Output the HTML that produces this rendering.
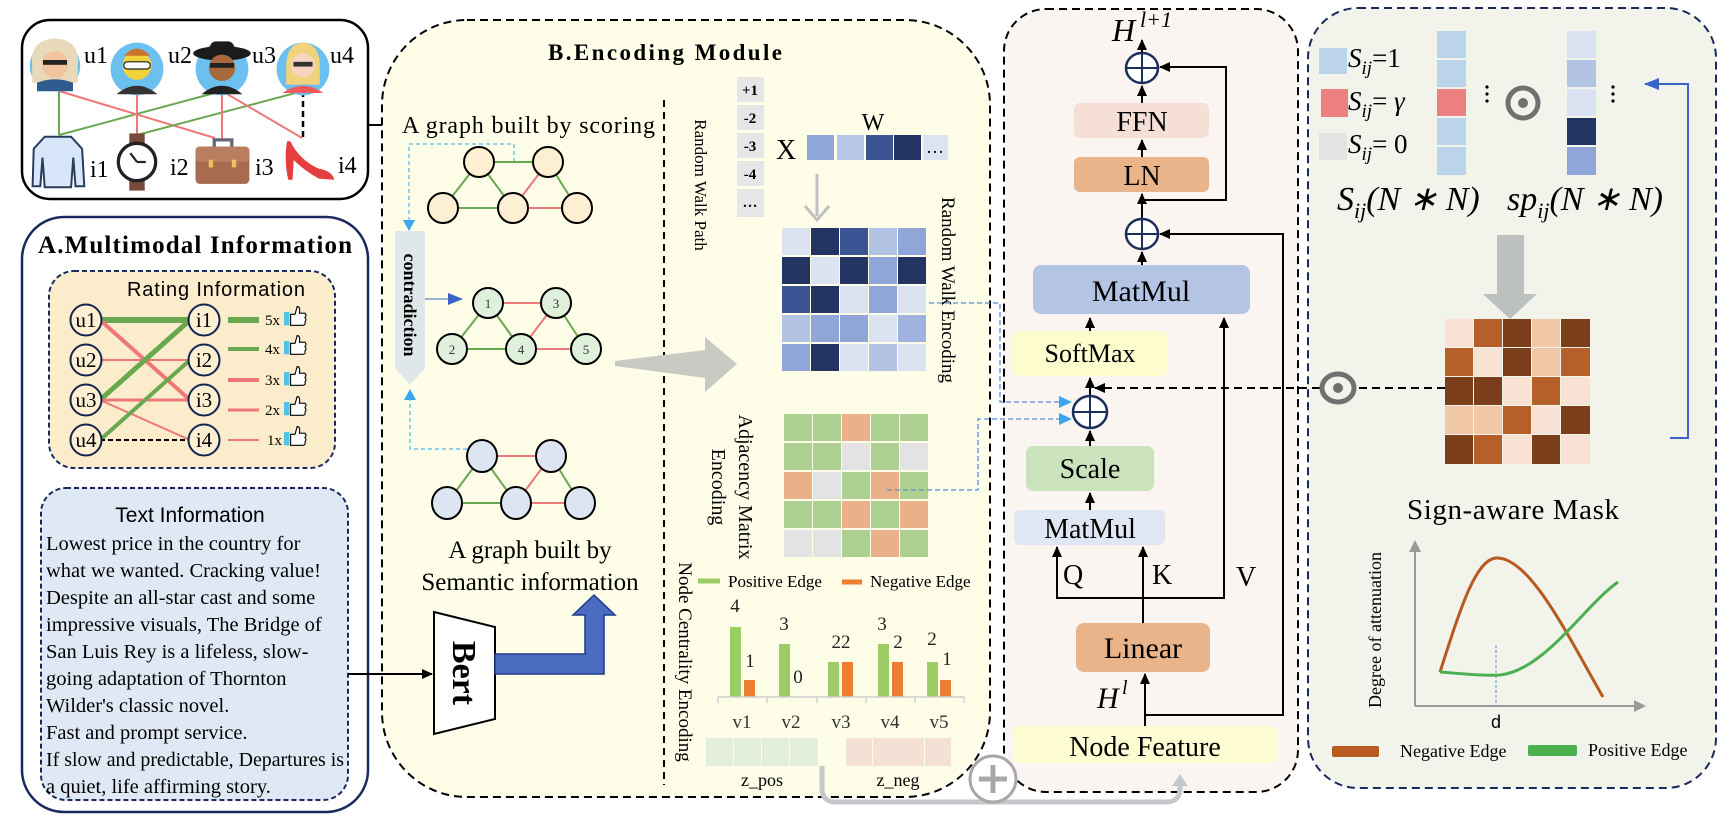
<!DOCTYPE html>
<html><head><meta charset="utf-8"><style>
html,body{margin:0;padding:0;background:#fff;}
svg{display:block;}
text{font-family:"Liberation Serif",serif;}
.sans{font-family:"Liberation Sans",sans-serif;}
</style></head><body>
<svg width="1735" height="817" viewBox="0 0 1735 817" xmlns="http://www.w3.org/2000/svg">
<defs>
<marker id="ab" markerWidth="12" markerHeight="12" refX="10" refY="6" orient="auto" markerUnits="userSpaceOnUse"><path d="M0,1 L11,6 L0,11z" fill="#000"/></marker>
<marker id="ac" markerWidth="14" markerHeight="14" refX="12" refY="7" orient="auto" markerUnits="userSpaceOnUse"><path d="M0,1 L13,7 L0,13z" fill="#3aa6ee"/></marker>
<marker id="abl" markerWidth="16" markerHeight="14" refX="14" refY="7" orient="auto" markerUnits="userSpaceOnUse"><path d="M0,1 L15,7 L0,13z" fill="#3a64c8"/></marker>
<marker id="ag" markerWidth="18" markerHeight="18" refX="8" refY="9" orient="auto" markerUnits="userSpaceOnUse"><path d="M0,1 L12,9 L0,17z" fill="#c4c7cc"/></marker>
</defs>

<!-- ================= Users box ================= -->
<rect x="22" y="20" width="346" height="179" rx="28" fill="#fff" stroke="#000" stroke-width="2.5"/>
<g stroke-width="2" fill="none">
<line x1="59" y1="91" x2="59" y2="135" stroke="#6aa84f"/>
<line x1="59" y1="135" x2="222" y2="91" stroke="#6aa84f"/>
<line x1="59" y1="91" x2="215" y2="138" stroke="#ee7777"/>
<line x1="137" y1="91" x2="137" y2="135" stroke="#ee7777"/>
<line x1="137" y1="135" x2="303" y2="91" stroke="#6aa84f"/>
<line x1="222" y1="91" x2="222" y2="140" stroke="#ee7777"/>
<line x1="222" y1="91" x2="302" y2="138" stroke="#ee7777"/>
<line x1="303" y1="91" x2="303" y2="138" stroke="#000" stroke-width="2.5" stroke-dasharray="6,4"/>
</g>
<!-- avatars -->
<g transform="translate(55,66) scale(1.2) translate(-55,-66)">
<circle cx="55" cy="66" r="21" fill="#6cc0f0"/>
<path d="M36,66 Q34,44 55,43 Q76,44 74,66 L74,80 L36,80z" fill="#e8d9b8"/>
<circle cx="55" cy="65" r="11" fill="#f3c39e"/>
<rect x="45" y="61" width="20" height="4" fill="#222"/>
<path d="M40,87 L40,80 Q55,74 70,80 L70,87z" fill="#2f5b8f"/>
</g>
<g transform="translate(137,69) scale(1.2) translate(-137,-69)">
<circle cx="137" cy="69" r="22" fill="#6cc0f0"/>
<circle cx="137" cy="66" r="12" fill="#f2d23b"/>
<path d="M126,58 Q137,46 148,58z" fill="#c8742a"/>
<rect x="126" y="63" width="22" height="6" rx="3" fill="#fff" stroke="#222"/>
<path d="M120,90 Q137,76 154,90z" fill="#333"/>
</g>
<g transform="translate(222,69) scale(1.2) translate(-222,-69)">
<circle cx="222" cy="69" r="22" fill="#6cc0f0"/>
<ellipse cx="222" cy="56" rx="24" ry="6" fill="#1c1c1c"/>
<rect x="212" y="46" width="20" height="10" rx="5" fill="#1c1c1c"/>
<circle cx="222" cy="68" r="11" fill="#a86a3d"/>
<rect x="212" y="64" width="20" height="4" fill="#222"/>
<path d="M205,90 Q222,76 239,90z" fill="#222"/>
</g>
<g transform="translate(303,69) scale(1.2) translate(-303,-69)">
<circle cx="303" cy="69" r="22" fill="#6cc0f0"/>
<path d="M289,70 Q288,48 303,47 Q318,48 317,70 L317,82 L289,82z" fill="#f0d37a"/>
<circle cx="303" cy="66" r="10" fill="#f8d5c0"/>
<rect x="295" y="63" width="16" height="4" fill="#333"/>
<path d="M286,89 Q303,77 320,89z" fill="#ee5b5b"/>
</g>
<text x="84" y="63" font-size="24">u1</text>
<text x="168" y="63" font-size="24">u2</text>
<text x="252" y="63" font-size="24">u3</text>
<text x="330" y="63" font-size="24">u4</text>
<!-- items -->
<g transform="translate(59,162) scale(1.1) translate(-59,-162)">
<path d="M46,139 L70,139 L80,150 L82,184 L74,184 L72,158 L70,185 L46,185 L44,158 L42,184 L35,184 L36,150z" fill="#d7e6f9" stroke="#2a3b5c" stroke-width="1.8"/>
</g>
<g transform="translate(137,162) scale(1.1) translate(-137,-162)">
<rect x="130" y="136" width="14" height="52" fill="#7a4a3a"/>
<circle cx="137" cy="162" r="17" fill="#fff" stroke="#222" stroke-width="3"/>
<line x1="137" y1="162" x2="131" y2="154" stroke="#222" stroke-width="2"/>
<line x1="137" y1="162" x2="145" y2="162" stroke="#222" stroke-width="2"/>
</g>
<g transform="translate(223,163) scale(1.1) translate(-223,-163)">
<path d="M215,148 L215,142 L231,142 L231,148" fill="none" stroke="#667" stroke-width="3"/>
<rect x="198" y="148" width="49" height="34" rx="4" fill="#a76b4f"/>
<rect x="198" y="148" width="49" height="14" rx="4" fill="#b97e60"/>
<rect x="210" y="160" width="4" height="7" fill="#f0c060"/><rect x="231" y="160" width="4" height="7" fill="#f0c060"/>
</g>
<g transform="translate(308,160) scale(1.1) translate(-308,-160)">
<path d="M289,143 Q286,160 290,178 L294,178 L295,160 Q305,170 318,177 L332,178 Q330,170 318,168 Q300,160 292,143z" fill="#e53e3e"/>
</g>
<text x="90" y="177" font-size="24">i1</text>
<text x="170" y="175" font-size="24">i2</text>
<text x="255" y="175" font-size="24">i3</text>
<text x="338" y="173" font-size="24">i4</text>
<line x1="368" y1="125" x2="394" y2="125" stroke="#000" stroke-width="2" marker-end="url(#ab)"/>

<!-- ================= A box ================= -->
<rect x="22" y="217" width="346" height="595" rx="42" fill="#fff" stroke="#1b2a5e" stroke-width="2.5"/>
<text x="38" y="253" font-size="25" font-weight="bold" textLength="314">A.Multimodal Information</text>
<rect x="49" y="271" width="286" height="197" rx="25" fill="#fbeccb" stroke="#1b2a5e" stroke-width="2" stroke-dasharray="5,3"/>
<text x="127" y="296" font-size="20" class="sans" textLength="178">Rating Information</text>
<g fill="none">
<line x1="100" y1="320" x2="190" y2="320" stroke="#6aa84f" stroke-width="6"/>
<line x1="100" y1="320" x2="190" y2="400" stroke="#ee7777" stroke-width="4"/>
<line x1="100" y1="360" x2="190" y2="360" stroke="#ee7777" stroke-width="2"/>
<line x1="100" y1="400" x2="190" y2="320" stroke="#6aa84f" stroke-width="5"/>
<line x1="100" y1="400" x2="190" y2="400" stroke="#ee7777" stroke-width="3"/>
<line x1="100" y1="400" x2="190" y2="440" stroke="#ee7777" stroke-width="2"/>
<line x1="100" y1="440" x2="190" y2="360" stroke="#6aa84f" stroke-width="4"/>
<line x1="100" y1="440" x2="190" y2="440" stroke="#000" stroke-width="2" stroke-dasharray="5,3"/>
</g>
<g fill="#fcefd2" stroke="#14224d" stroke-width="2">
<circle cx="86" cy="320" r="15.5"/><circle cx="86" cy="360" r="15.5"/><circle cx="86" cy="400" r="15.5"/><circle cx="86" cy="440" r="15.5"/>
<circle cx="204" cy="320" r="15.5"/><circle cx="204" cy="360" r="15.5"/><circle cx="204" cy="400" r="15.5"/><circle cx="204" cy="440" r="15.5"/>
</g>
<g font-size="21" text-anchor="middle">
<text x="86" y="327">u1</text><text x="86" y="367">u2</text><text x="86" y="407">u3</text><text x="86" y="447">u4</text>
<text x="204" y="327">i1</text><text x="204" y="367">i2</text><text x="204" y="407">i3</text><text x="204" y="447">i4</text>
</g>
<line x1="228" y1="320" x2="259" y2="320" stroke="#6aa84f" stroke-width="6"/>
<line x1="228" y1="349" x2="259" y2="349" stroke="#6aa84f" stroke-width="4"/>
<line x1="228" y1="380" x2="259" y2="380" stroke="#ee7777" stroke-width="4"/>
<line x1="228" y1="410" x2="259" y2="410" stroke="#ee7777" stroke-width="3"/>
<line x1="228" y1="440" x2="259" y2="440" stroke="#ee7777" stroke-width="2"/>
<g font-size="15">
<text x="265" y="325">5x</text><text x="265" y="354">4x</text><text x="265" y="385">3x</text><text x="265" y="415">2x</text><text x="267" y="445">1x</text>
</g>
<g>
<g transform="translate(284,311) scale(1.1)"><rect x="0" y="1" width="5" height="12" fill="#4fc3e8"/><path d="M6,13 L6,3 L10,3 L12,-4 Q15,-4 14,2 L19,2 Q21,4 19,6 Q21,8 19,10 Q20,13 17,13z" fill="#fff" stroke="#000" stroke-width="1"/></g>
<g transform="translate(284,340) scale(1.1)"><rect x="0" y="1" width="5" height="12" fill="#4fc3e8"/><path d="M6,13 L6,3 L10,3 L12,-4 Q15,-4 14,2 L19,2 Q21,4 19,6 Q21,8 19,10 Q20,13 17,13z" fill="#fff" stroke="#000" stroke-width="1"/></g>
<g transform="translate(284,371) scale(1.1)"><rect x="0" y="1" width="5" height="12" fill="#4fc3e8"/><path d="M6,13 L6,3 L10,3 L12,-4 Q15,-4 14,2 L19,2 Q21,4 19,6 Q21,8 19,10 Q20,13 17,13z" fill="#fff" stroke="#000" stroke-width="1"/></g>
<g transform="translate(284,401) scale(1.1)"><rect x="0" y="1" width="5" height="12" fill="#4fc3e8"/><path d="M6,13 L6,3 L10,3 L12,-4 Q15,-4 14,2 L19,2 Q21,4 19,6 Q21,8 19,10 Q20,13 17,13z" fill="#fff" stroke="#000" stroke-width="1"/></g>
<g transform="translate(284,431) scale(1.1)"><rect x="0" y="1" width="5" height="12" fill="#4fc3e8"/><path d="M6,13 L6,3 L10,3 L12,-4 Q15,-4 14,2 L19,2 Q21,4 19,6 Q21,8 19,10 Q20,13 17,13z" fill="#fff" stroke="#000" stroke-width="1"/></g>
</g>
<!-- text info -->
<rect x="41" y="488" width="307" height="312" rx="25" fill="#dfe9f5" stroke="#1b2a5e" stroke-width="2" stroke-dasharray="5,3"/>
<text x="190" y="522" font-size="21" class="sans" text-anchor="middle">Text Information</text>
<g font-size="20.5">
<text x="46" y="550">Lowest price in the country for</text>
<text x="46" y="577">what we wanted. Cracking value!</text>
<text x="46" y="604">Despite an all-star cast and some</text>
<text x="46" y="631">impressive visuals, The Bridge of</text>
<text x="46" y="658">San Luis Rey is a lifeless, slow-</text>
<text x="46" y="685">going adaptation of Thornton</text>
<text x="46" y="712">Wilder's classic novel.</text>
<text x="46" y="739">Fast and prompt service.</text>
<text x="46" y="766" textLength="298" lengthAdjust="spacingAndGlyphs">If slow and predictable, Departures is</text>
<text x="46" y="793">a quiet, life affirming story.</text>
</g>

<!-- ================= B box ================= -->
<rect x="382" y="20" width="608" height="777" rx="85" fill="#fdfde8" stroke="#000" stroke-width="2" stroke-dasharray="8,5"/>
<line x1="664" y1="100" x2="664" y2="785" stroke="#000" stroke-width="2" stroke-dasharray="7,5"/>
<text x="548" y="60" font-size="23" font-weight="bold" textLength="234">B.Encoding Module</text>
<text x="402" y="133" font-size="24" textLength="253">A graph built by scoring</text>
<!-- scoring graph -->
<polyline points="409,228 409,144 514,144 514,162" fill="none" stroke="#6cc6f0" stroke-width="1.5" stroke-dasharray="4,3"/>
<path d="M403,220 L409,231 L415,220z" fill="#3aa6ee"/>
<g stroke-width="2">
<line x1="479" y1="162" x2="548" y2="162" stroke="#6aa84f"/>
<line x1="479" y1="162" x2="443" y2="208" stroke="#6aa84f"/>
<line x1="479" y1="162" x2="513" y2="208" stroke="#6aa84f"/>
<line x1="548" y1="162" x2="513" y2="208" stroke="#ee7777"/>
<line x1="548" y1="162" x2="577" y2="208" stroke="#6aa84f"/>
<line x1="443" y1="208" x2="513" y2="208" stroke="#6aa84f"/>
<line x1="513" y1="208" x2="577" y2="208" stroke="#ee7777"/>
</g>
<g fill="#fcefd2" stroke="#000" stroke-width="2">
<circle cx="479" cy="162" r="15"/><circle cx="548" cy="162" r="15"/><circle cx="443" cy="208" r="15"/><circle cx="513" cy="208" r="15"/><circle cx="577" cy="208" r="15"/>
</g>
<!-- contradiction -->
<path d="M395,231 L425,231 L425,368 L410,385 L395,368z" fill="#dfe7e8"/>
<text x="0" y="0" font-size="18" font-weight="bold" text-anchor="middle" transform="translate(404,305) rotate(90)">contradiction</text>
<line x1="425" y1="299" x2="462" y2="299" stroke="#7a9cc8" stroke-width="1.5" marker-end="url(#abl)"/>
<g stroke-width="2">
<line x1="488" y1="303" x2="556" y2="303" stroke="#ee7777"/>
<line x1="488" y1="303" x2="452" y2="349" stroke="#6aa84f"/>
<line x1="488" y1="303" x2="521" y2="349" stroke="#6aa84f"/>
<line x1="556" y1="303" x2="521" y2="349" stroke="#ee7777"/>
<line x1="556" y1="303" x2="586" y2="349" stroke="#6aa84f"/>
<line x1="452" y1="349" x2="521" y2="349" stroke="#6aa84f"/>
<line x1="521" y1="349" x2="586" y2="349" stroke="#ee7777"/>
</g>
<g fill="#dff0dc" stroke="#000" stroke-width="2">
<circle cx="488" cy="303" r="15"/><circle cx="556" cy="303" r="15"/><circle cx="452" cy="349" r="15"/><circle cx="521" cy="349" r="15"/><circle cx="586" cy="349" r="15"/>
</g>
<g font-size="13" class="sans" text-anchor="middle" fill="#333">
<text x="488" y="308">1</text><text x="556" y="308">3</text><text x="452" y="354">2</text><text x="521" y="354">4</text><text x="586" y="354">5</text>
</g>
<!-- semantic graph -->
<polyline points="467,449 410,449 410,395" fill="none" stroke="#6cc6f0" stroke-width="1.5" stroke-dasharray="4,3"/>
<path d="M404,400 L410,389 L416,400z" fill="#3aa6ee"/>
<g stroke-width="2">
<line x1="482" y1="456" x2="551" y2="456" stroke="#ee7777"/>
<line x1="482" y1="456" x2="447" y2="503" stroke="#6aa84f"/>
<line x1="482" y1="456" x2="516" y2="503" stroke="#6aa84f"/>
<line x1="551" y1="456" x2="516" y2="503" stroke="#ee7777"/>
<line x1="551" y1="456" x2="580" y2="503" stroke="#6aa84f"/>
<line x1="447" y1="503" x2="516" y2="503" stroke="#6aa84f"/>
<line x1="516" y1="503" x2="580" y2="503" stroke="#ee7777"/>
</g>
<g fill="#dde4f2" stroke="#000" stroke-width="2">
<ellipse cx="482" cy="456" rx="15" ry="16"/><ellipse cx="551" cy="456" rx="15" ry="16"/><ellipse cx="447" cy="503" rx="15" ry="16"/><ellipse cx="516" cy="503" rx="15" ry="16"/><ellipse cx="580" cy="503" rx="15" ry="16"/>
</g>
<text x="530" y="558" font-size="25" text-anchor="middle">A graph built by</text>
<text x="530" y="590" font-size="25" text-anchor="middle">Semantic information</text>
<!-- Bert -->
<line x1="348" y1="674" x2="432" y2="674" stroke="#000" stroke-width="2" marker-end="url(#ab)"/>
<path d="M434,612 L495,627 L495,719 L434,734z" fill="#fff" stroke="#000" stroke-width="2"/>
<text x="0" y="0" font-size="34" font-weight="bold" text-anchor="middle" transform="translate(453,673) rotate(90)">Bert</text>
<path d="M495,654 L585,654 L585,615 L573,615 L594,595 L615,615 L604,615 L604,674 L495,674z" fill="#4a6bbf" stroke="#1e3a8a" stroke-width="1.5"/>
<!-- big gray arrow -->
<path d="M615,361 L705,350 L705,337 L737,364 L705,392 L705,378 L615,366z" fill="#c8cbc4"/>

<!-- random walk -->
<text x="0" y="0" font-size="17" text-anchor="middle" transform="translate(695,185) rotate(90)">Random Walk Path</text>
<g fill="#e6e6e6">
<rect x="737" y="77" width="27" height="25"/><rect x="737" y="105" width="27" height="25"/><rect x="737" y="133" width="27" height="25"/><rect x="737" y="161" width="27" height="25"/><rect x="737" y="189" width="27" height="28"/>
</g>
<g font-size="15" font-weight="bold" text-anchor="middle">
<text x="750" y="95">+1</text><text x="750" y="123">-2</text><text x="750" y="151">-3</text><text x="750" y="179">-4</text><text x="750" y="207">…</text>
</g>
<text x="776" y="159" font-size="28">X</text>
<text x="873" y="130" font-size="24" text-anchor="middle">W</text>
<rect x="807" y="135" width="27" height="25" fill="#8fa6d8"/>
<rect x="837" y="135" width="27" height="25" fill="#b8c6e6"/>
<rect x="866" y="135" width="27" height="25" fill="#3a5494"/>
<rect x="894" y="135" width="27" height="25" fill="#233463"/>
<rect x="923" y="135" width="25" height="25" fill="#dce4f3"/>
<text x="935" y="153" font-size="18" text-anchor="middle">…</text>
<line x1="817" y1="174" x2="817" y2="216" stroke="#c0c0c0" stroke-width="3"/>
<path d="M805,206 L817,220 L829,206" fill="none" stroke="#c0c0c0" stroke-width="3"/>
<g>
<rect x="782" y="228" width="28" height="27" fill="#dbe3f2"/><rect x="811" y="228" width="28" height="27" fill="#233463"/><rect x="840" y="228" width="28" height="27" fill="#3a5494"/><rect x="869" y="228" width="28" height="27" fill="#b3c3e4"/><rect x="898" y="228" width="28" height="27" fill="#91a6d8"/>
<rect x="782" y="257" width="28" height="27" fill="#233463"/><rect x="811" y="257" width="28" height="27" fill="#dbe3f2"/><rect x="840" y="257" width="28" height="27" fill="#233463"/><rect x="869" y="257" width="28" height="27" fill="#91a6d8"/><rect x="898" y="257" width="28" height="27" fill="#233463"/>
<rect x="782" y="286" width="28" height="27" fill="#3a5494"/><rect x="811" y="286" width="28" height="27" fill="#233463"/><rect x="840" y="286" width="28" height="27" fill="#dbe3f2"/><rect x="869" y="286" width="28" height="27" fill="#91a6d8"/><rect x="898" y="286" width="28" height="27" fill="#dbe3f2"/>
<rect x="782" y="315" width="28" height="27" fill="#b3c3e4"/><rect x="811" y="315" width="28" height="27" fill="#91a6d8"/><rect x="840" y="315" width="28" height="27" fill="#91a6d8"/><rect x="869" y="315" width="28" height="27" fill="#dbe3f2"/><rect x="898" y="315" width="28" height="27" fill="#9fb3de"/>
<rect x="782" y="344" width="28" height="27" fill="#91a6d8"/><rect x="811" y="344" width="28" height="27" fill="#233463"/><rect x="840" y="344" width="28" height="27" fill="#dbe3f2"/><rect x="869" y="344" width="28" height="27" fill="#b3c3e4"/><rect x="898" y="344" width="28" height="27" fill="#dbe3f2"/>
</g>
<text x="0" y="0" font-size="19" text-anchor="middle" transform="translate(942,290) rotate(90)">Random Walk Encoding</text>
<!-- adjacency -->
<g>
<rect x="784" y="414" width="28" height="27" fill="#aecf92"/><rect x="813" y="414" width="28" height="27" fill="#aecf92"/><rect x="842" y="414" width="28" height="27" fill="#e9b08a"/><rect x="871" y="414" width="28" height="27" fill="#aecf92"/><rect x="900" y="414" width="28" height="27" fill="#aecf92"/>
<rect x="784" y="443" width="28" height="27" fill="#aecf92"/><rect x="813" y="443" width="28" height="27" fill="#aecf92"/><rect x="842" y="443" width="28" height="27" fill="#e3e3e3"/><rect x="871" y="443" width="28" height="27" fill="#aecf92"/><rect x="900" y="443" width="28" height="27" fill="#e3e3e3"/>
<rect x="784" y="472" width="28" height="27" fill="#e9b08a"/><rect x="813" y="472" width="28" height="27" fill="#e3e3e3"/><rect x="842" y="472" width="28" height="27" fill="#aecf92"/><rect x="871" y="472" width="28" height="27" fill="#e9b08a"/><rect x="900" y="472" width="28" height="27" fill="#aecf92"/>
<rect x="784" y="501" width="28" height="27" fill="#aecf92"/><rect x="813" y="501" width="28" height="27" fill="#aecf92"/><rect x="842" y="501" width="28" height="27" fill="#e9b08a"/><rect x="871" y="501" width="28" height="27" fill="#aecf92"/><rect x="900" y="501" width="28" height="27" fill="#e9b08a"/>
<rect x="784" y="530" width="28" height="27" fill="#e3e3e3"/><rect x="813" y="530" width="28" height="27" fill="#e3e3e3"/><rect x="842" y="530" width="28" height="27" fill="#aecf92"/><rect x="871" y="530" width="28" height="27" fill="#e9b08a"/><rect x="900" y="530" width="28" height="27" fill="#aecf92"/>
</g>
<text x="0" y="0" font-size="20" text-anchor="middle" transform="translate(739,487) rotate(90)">Adjacency Matrix</text>
<text x="0" y="0" font-size="20" text-anchor="middle" transform="translate(712,487) rotate(90)">Encoding</text>
<!-- centrality -->
<text x="0" y="0" font-size="19" text-anchor="middle" transform="translate(679,662) rotate(90)">Node Centrality Encoding</text>
<line x1="698" y1="581" x2="720" y2="581" stroke="#9ccc65" stroke-width="5"/>
<text x="728" y="587" font-size="17">Positive Edge</text>
<line x1="842" y1="582" x2="862" y2="582" stroke="#ed7d31" stroke-width="5"/>
<text x="870" y="587" font-size="17">Negative Edge</text>
<g fill="#9ccc65">
<rect x="730" y="627" width="11" height="70"/><rect x="779" y="644" width="11" height="53"/><rect x="828" y="662" width="11" height="35"/><rect x="878" y="644" width="11" height="53"/><rect x="927" y="662" width="11" height="35"/>
</g>
<g fill="#ed7d31">
<rect x="744" y="680" width="11" height="17"/><rect x="842" y="662" width="11" height="35"/><rect x="892" y="662" width="11" height="35"/><rect x="940" y="680" width="11" height="17"/>
</g>
<line x1="718" y1="697" x2="964" y2="697" stroke="#d0d0d0" stroke-width="1.5"/>
<g stroke="#d0d0d0" stroke-width="1.5"><line x1="718" y1="697" x2="718" y2="703"/><line x1="767" y1="697" x2="767" y2="703"/><line x1="817" y1="697" x2="817" y2="703"/><line x1="866" y1="697" x2="866" y2="703"/><line x1="915" y1="697" x2="915" y2="703"/><line x1="964" y1="697" x2="964" y2="703"/></g>
<g class="sans" font-size="19" text-anchor="middle" fill="#222">
<text x="735" y="612">4</text><text x="750" y="667">1</text>
<text x="784" y="630">3</text><text x="798" y="683">0</text>
<text x="841" y="648">22</text>
<text x="882" y="630">3</text><text x="898" y="648">2</text>
<text x="932" y="645">2</text><text x="947" y="665">1</text>
</g>
<g class="sans" font-size="19" text-anchor="middle" fill="#333">
<text x="742" y="728">v1</text><text x="791" y="728">v2</text><text x="841" y="728">v3</text><text x="890" y="728">v4</text><text x="939" y="728">v5</text>
</g>
<g fill="#e3eedc"><rect x="706" y="738" width="27" height="28"/><rect x="734" y="738" width="27" height="28"/><rect x="762" y="738" width="27" height="28"/><rect x="790" y="738" width="28" height="28"/></g>
<g fill="#f5e0d6"><rect x="846" y="738" width="26" height="28"/><rect x="873" y="738" width="26" height="28"/><rect x="899" y="738" width="25" height="28"/><rect x="925" y="738" width="26" height="28"/></g>
<text x="762" y="786" font-size="18" text-anchor="middle">z_pos</text>
<text x="898" y="786" font-size="18" text-anchor="middle">z_neg</text>

<!-- ================= Transformer box ================= -->
<rect x="1004" y="9" width="294" height="783" rx="42" fill="#faf5f1" stroke="#000" stroke-width="2" stroke-dasharray="8,5"/>
<path d="M822,766 L822,788 Q822,802 836,802 L1166,802 Q1180,802 1180,788 L1180,778" fill="none" stroke="#c4c7cc" stroke-width="5" marker-end="url(#ag)"/>
<circle cx="993" cy="779" r="23" fill="#fff" stroke="#a8a8a8" stroke-width="3"/>
<line x1="979" y1="779" x2="1007" y2="779" stroke="#a8a8a8" stroke-width="5"/><line x1="993" y1="765" x2="993" y2="793" stroke="#a8a8a8" stroke-width="5"/>

<polyline points="929,303 1000,303 1000,402 1071,402" fill="none" stroke="#5b8fd8" stroke-width="1.3" stroke-dasharray="5,3" marker-end="url(#ac)"/>
<polyline points="887,490 978,490 978,419 1071,419" fill="none" stroke="#5b8fd8" stroke-width="1.3" stroke-dasharray="5,3" marker-end="url(#ac)"/>

<text x="1112" y="41" font-size="32" font-style="italic">H</text>
<text x="1140" y="27" font-size="22" font-style="italic">l+1</text>
<g stroke="#000" stroke-width="2" fill="none">
<line x1="1142" y1="52" x2="1142" y2="40" marker-end="url(#ab)"/>
<line x1="1142" y1="103" x2="1142" y2="86" marker-end="url(#ab)"/>
<line x1="1142" y1="157" x2="1142" y2="140" marker-end="url(#ab)"/>
<line x1="1142" y1="218" x2="1142" y2="194" marker-end="url(#ab)"/>
<line x1="1142" y1="265" x2="1142" y2="252" marker-end="url(#ab)"/>
<polyline points="1142,200 1226,200 1226,67 1160,67" marker-end="url(#ab)"/>
<polyline points="1145,715 1283,715 1283,234 1160,234" marker-end="url(#ab)"/>
<line x1="1090" y1="331" x2="1090" y2="318" marker-end="url(#ab)"/>
<line x1="1090" y1="395" x2="1090" y2="378" marker-end="url(#ab)"/>
<line x1="1090" y1="446" x2="1090" y2="431" marker-end="url(#ab)"/>
<line x1="1090" y1="510" x2="1090" y2="493" marker-end="url(#ab)"/>
<polyline points="1143,598 1057,598 1057,547" marker-end="url(#ab)"/>
<line x1="1143" y1="623" x2="1143" y2="547" marker-end="url(#ab)"/>
<polyline points="1143,598 1224,598 1224,318" marker-end="url(#ab)"/>
<line x1="1145" y1="726" x2="1145" y2="674" marker-end="url(#ab)"/>
</g>
<g fill="#fff" stroke="#1c2f5c" stroke-width="2.5">
<ellipse cx="1142" cy="68" rx="16" ry="15"/><ellipse cx="1142" cy="234" rx="16" ry="15"/><ellipse cx="1090" cy="412" rx="17" ry="16"/>
</g>
<g stroke="#1c2f5c" stroke-width="2">
<line x1="1126" y1="68" x2="1158" y2="68"/><line x1="1142" y1="53" x2="1142" y2="83"/>
<line x1="1126" y1="234" x2="1158" y2="234"/><line x1="1142" y1="219" x2="1142" y2="249"/>
<line x1="1073" y1="412" x2="1107" y2="412"/><line x1="1090" y1="396" x2="1090" y2="428"/>
</g>
<rect x="1074" y="103" width="135" height="35" rx="6" fill="#f6e0d5"/>
<text x="1142" y="131" font-size="28" text-anchor="middle">FFN</text>
<rect x="1074" y="157" width="135" height="35" rx="6" fill="#e9b48a"/>
<text x="1142" y="185" font-size="28" text-anchor="middle">LN</text>
<rect x="1033" y="265" width="217" height="49" rx="8" fill="#b4c4e4"/>
<text x="1141" y="301" font-size="30" text-anchor="middle">MatMul</text>
<rect x="1012" y="331" width="156" height="45" rx="7" fill="#fdfccf"/>
<text x="1090" y="362" font-size="26" text-anchor="middle">SoftMax</text>
<rect x="1026" y="446" width="128" height="45" rx="7" fill="#cbe3bd"/>
<text x="1090" y="478" font-size="28" text-anchor="middle">Scale</text>
<rect x="1014" y="510" width="151" height="35" rx="6" fill="#dfe6f4"/>
<text x="1090" y="538" font-size="28" text-anchor="middle">MatMul</text>
<text x="1063" y="584" font-size="28">Q</text>
<text x="1152" y="584" font-size="28">K</text>
<text x="1236" y="586" font-size="28">V</text>
<rect x="1076" y="623" width="134" height="49" rx="8" fill="#e9b48a"/>
<text x="1143" y="658" font-size="30" text-anchor="middle">Linear</text>
<text x="1097" y="708" font-size="30" font-style="italic">H</text>
<text x="1122" y="694" font-size="20" font-style="italic">l</text>
<rect x="1013" y="726" width="264" height="37" rx="6" fill="#fdfcd3"/>
<text x="1145" y="756" font-size="28" text-anchor="middle">Node Feature</text>

<!-- ================= Right box ================= -->
<rect x="1308" y="8" width="408" height="780" rx="50" fill="#f2f3ea" stroke="#1b2a5e" stroke-width="2" stroke-dasharray="8,5"/>
<rect x="1319" y="48" width="28" height="26" fill="#bcd3ec"/>
<rect x="1321" y="89" width="27" height="28" fill="#ec8080"/>
<rect x="1319" y="133" width="28" height="27" fill="#e3e3e3"/>
<g font-size="27" font-style="italic">
<text x="1348" y="67">S<tspan font-size="19" dy="7">ij</tspan><tspan dy="-7" font-style="normal">=1</tspan></text>
<text x="1348" y="110">S<tspan font-size="19" dy="7">ij</tspan><tspan dy="-7" font-style="normal">= </tspan>γ</text>
<text x="1348" y="153">S<tspan font-size="19" dy="7">ij</tspan><tspan dy="-7" font-style="normal">= 0</tspan></text>
</g>
<g>
<rect x="1437" y="31" width="29" height="27" fill="#bcd3ec"/><rect x="1437" y="60" width="29" height="27" fill="#bcd3ec"/><rect x="1437" y="89" width="29" height="27" fill="#ec8080"/><rect x="1437" y="118" width="29" height="27" fill="#bcd3ec"/><rect x="1437" y="147" width="29" height="28" fill="#bcd3ec"/>
<rect x="1567" y="31" width="29" height="27" fill="#dbe3f2"/><rect x="1567" y="60" width="29" height="27" fill="#b3c3e4"/><rect x="1567" y="89" width="29" height="27" fill="#dbe3f2"/><rect x="1567" y="118" width="29" height="27" fill="#233463"/><rect x="1567" y="147" width="29" height="28" fill="#91a6d8"/>
</g>
<g fill="#000"><circle cx="1487" cy="87" r="1.6"/><circle cx="1487" cy="94" r="1.6"/><circle cx="1487" cy="101" r="1.6"/><circle cx="1613" cy="87" r="1.6"/><circle cx="1613" cy="94" r="1.6"/><circle cx="1613" cy="101" r="1.6"/></g>
<circle cx="1523" cy="103" r="15" fill="none" stroke="#707070" stroke-width="5"/><circle cx="1523" cy="103" r="5" fill="#707070"/>
<polyline points="1670,438 1688,438 1688,84 1645,84" fill="none" stroke="#3a64c8" stroke-width="2" marker-end="url(#abl)"/>
<g font-size="34" font-style="italic">
<text x="1337" y="210">S<tspan font-size="22" dy="8">ij</tspan><tspan dy="-8">(N ∗ N)</tspan></text>
<text x="1507" y="210">sp<tspan font-size="22" dy="8">ij</tspan><tspan dy="-8">(N ∗ N)</tspan></text>
</g>
<path d="M1497,235 L1524,235 L1524,294 L1537,294 L1510,319 L1483,294 L1497,294z" fill="#bcc1bf"/>
<g>
<rect x="1445" y="319" width="28" height="28" fill="#f7e2d3"/><rect x="1474" y="319" width="28" height="28" fill="#b5602a"/><rect x="1503" y="319" width="28" height="28" fill="#7a3e1a"/><rect x="1532" y="319" width="28" height="28" fill="#f0c8a8"/><rect x="1561" y="319" width="29" height="28" fill="#7a3e1a"/>
<rect x="1445" y="348" width="28" height="28" fill="#b5602a"/><rect x="1474" y="348" width="28" height="28" fill="#f7e2d3"/><rect x="1503" y="348" width="28" height="28" fill="#7a3e1a"/><rect x="1532" y="348" width="28" height="28" fill="#f0c8a8"/><rect x="1561" y="348" width="29" height="28" fill="#b5602a"/>
<rect x="1445" y="377" width="28" height="28" fill="#7a3e1a"/><rect x="1474" y="377" width="28" height="28" fill="#7a3e1a"/><rect x="1503" y="377" width="28" height="28" fill="#f7e2d3"/><rect x="1532" y="377" width="28" height="28" fill="#b5602a"/><rect x="1561" y="377" width="29" height="28" fill="#f7e2d3"/>
<rect x="1445" y="406" width="28" height="28" fill="#f0c8a8"/><rect x="1474" y="406" width="28" height="28" fill="#f0c8a8"/><rect x="1503" y="406" width="28" height="28" fill="#b5602a"/><rect x="1532" y="406" width="28" height="28" fill="#f7e2d3"/><rect x="1561" y="406" width="29" height="28" fill="#7a3e1a"/>
<rect x="1445" y="435" width="28" height="29" fill="#7a3e1a"/><rect x="1474" y="435" width="28" height="29" fill="#b5602a"/><rect x="1503" y="435" width="28" height="29" fill="#f7e2d3"/><rect x="1532" y="435" width="28" height="29" fill="#7a3e1a"/><rect x="1561" y="435" width="29" height="29" fill="#f7e2d3"/>
</g>
<line x1="1445" y1="388" x2="1356" y2="388" stroke="#000" stroke-width="2" stroke-dasharray="8,5"/>
<line x1="1320" y1="388" x2="1095" y2="388" stroke="#000" stroke-width="2" stroke-dasharray="8,5" marker-end="url(#ab)"/>
<ellipse cx="1338" cy="388" rx="16" ry="14" fill="none" stroke="#707070" stroke-width="5"/><circle cx="1338" cy="388" r="5" fill="#707070"/>
<text x="1513" y="519" font-size="29" text-anchor="middle" textLength="212">Sign-aware Mask</text>
<text x="0" y="0" font-size="18" text-anchor="middle" transform="translate(1381,630) rotate(-90)">Degree of attenuation</text>
<line x1="1415" y1="706" x2="1415" y2="548" stroke="#9a9a9a" stroke-width="2"/>
<path d="M1409,552 L1415,540 L1421,552z" fill="#9a9a9a"/>
<line x1="1415" y1="706" x2="1638" y2="706" stroke="#9a9a9a" stroke-width="2"/>
<path d="M1634,700 L1646,706 L1634,712z" fill="#9a9a9a"/>
<line x1="1496" y1="645" x2="1496" y2="706" stroke="#5b8fd8" stroke-width="1" stroke-dasharray="3,2"/>
<text x="1496" y="728" font-size="18" class="sans" text-anchor="middle">d</text>
<path d="M1440,672 C1460,610 1475,560 1496,558 C1530,556 1570,640 1603,697" fill="none" stroke="#b85a22" stroke-width="3"/>
<path d="M1440,672 C1465,674 1485,676 1500,675 C1545,670 1585,605 1618,582" fill="none" stroke="#4caf50" stroke-width="3"/>
<rect x="1332" y="746" width="47" height="11" rx="2" fill="#b85a22"/>
<text x="1400" y="757" font-size="18">Negative Edge</text>
<rect x="1528" y="745" width="49" height="11" rx="2" fill="#4caf50"/>
<text x="1588" y="756" font-size="18">Positive Edge</text>
</svg>
</body></html>
